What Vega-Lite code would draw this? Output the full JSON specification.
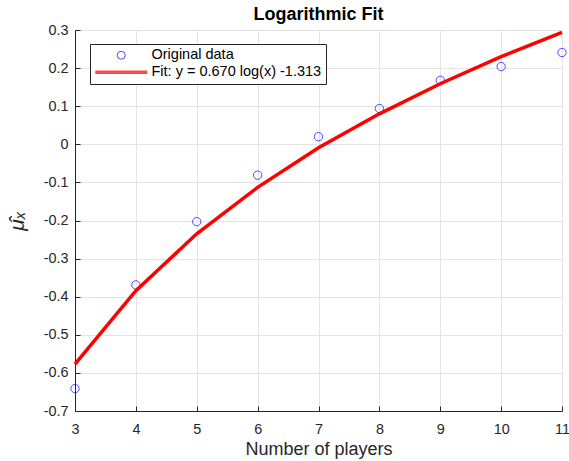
{
  "$schema": "https://vega.github.io/schema/vega-lite/v6.json",
  "width": 487,
  "height": 381,
  "autosize": "none",
  "padding": {"left": 75, "top": 30, "right": 7, "bottom": 50},
  "background": "white",
  "title": {"text": "Logarithmic Fit", "font": "Liberation Sans", "fontSize": 18, "fontWeight": "bold", "color": "black", "offset": -2, "anchor": "middle", "frame": "group"},
  "config": {
    "view": {"stroke": null},
    "font": "Liberation Sans",
    "axis": {
      "domainColor": "#262626",
      "tickColor": "#262626",
      "labelColor": "#262626",
      "titleColor": "#262626",
      "labelFont": "Liberation Sans",
      "titleFont": "Liberation Sans",
      "labelFontSize": 14.4,
      "gridColor": "#e3e3e3",
      "gridWidth": 1,
      "tickSize": -5,
      "domainWidth": 1
    },
    "legend": {
      "orient": "none",
      "legendX": 15,
      "legendY": 14,
      "title": null,
      "padding": 4,
      "strokeColor": "#262626",
      "fillColor": "white",
      "labelFont": "Liberation Sans",
      "labelFontSize": 14.5,
      "labelColor": "black",
      "labelLimit": 400,
      "symbolSize": 64,
      "symbolOffset": 20,
      "labelOffset": 23,
      "rowPadding": 2,
      "cornerRadius": 0
    }
  },
  "datasets": {
    "obs": [
      {"players": 3, "mu": -0.641},
      {"players": 4, "mu": -0.369},
      {"players": 5, "mu": -0.203},
      {"players": 6, "mu": -0.081},
      {"players": 7, "mu": 0.020},
      {"players": 8, "mu": 0.094},
      {"players": 9, "mu": 0.168},
      {"players": 10, "mu": 0.204},
      {"players": 11, "mu": 0.241}
    ],
    "fit": [
      {"players": 3, "mu": -0.577},
      {"players": 4, "mu": -0.384},
      {"players": 5, "mu": -0.235},
      {"players": 6, "mu": -0.113},
      {"players": 7, "mu": -0.009},
      {"players": 8, "mu": 0.080},
      {"players": 9, "mu": 0.159},
      {"players": 10, "mu": 0.230},
      {"players": 11, "mu": 0.294}
    ]
  },
  "encoding": {
    "x": {
      "field": "players", "type": "quantitative",
      "scale": {"domain": [3, 11], "nice": false, "zero": false},
      "axis": {"title": "Number of players", "titleFontSize": 18, "titleFontWeight": "normal", "values": [3,4,5,6,7,8,9,10,11], "labelPadding": 16, "titlePadding": 5, "grid": true, "labelFlush": false}
    },
    "y": {
      "field": "mu", "type": "quantitative",
      "scale": {"domain": [-0.7, 0.3], "nice": false, "zero": false},
      "axis": {"title": "μ̂ₓ", "titleFontSize": 21, "titleFontStyle": "italic", "titleFontWeight": "normal", "values": [-0.7,-0.6,-0.5,-0.4,-0.3,-0.2,-0.1,0,0.1,0.2,0.3], "labelExpr": "replace(format(datum.value, '.1~f'), '−', '-')", "labelPadding": 12, "titlePadding": 16, "grid": true, "labelFlush": false}
    }
  },
  "layer": [
    {
      "data": {"name": "obs"},
      "mark": {"type": "point", "filled": false, "size": 70, "clip": false},
      "encoding": {
        "color": {"datum": "Original data", "scale": {"domain": ["Original data", "Fit: y = 0.670 log(x) -1.313"], "range": ["#0000ff", "#ff0000"]}, "legend": {"labelExpr": "datum.label + '\u00a0\u00a0\u00a0'"}},
        "strokeWidth": {"datum": "Original data", "scale": {"domain": ["Original data", "Fit: y = 0.670 log(x) -1.313"], "range": [1, 3.5]}},
        "shape": {"datum": "Original data", "scale": {"domain": ["Original data", "Fit: y = 0.670 log(x) -1.313"], "range": ["circle", "M-6.5,0L6.5,0"]}}
      }
    },
    {
      "data": {"name": "fit"},
      "mark": {"type": "line", "clip": false},
      "encoding": {
        "color": {"datum": "Fit: y = 0.670 log(x) -1.313"},
        "strokeWidth": {"datum": "Fit: y = 0.670 log(x) -1.313"}
      }
    }
  ]
}
